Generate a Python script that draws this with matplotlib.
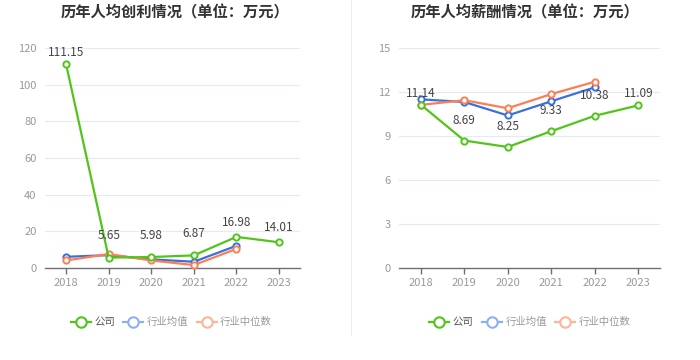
import matplotlib
matplotlib.use("Agg")
import matplotlib.pyplot as plt
from matplotlib.lines import Line2D

plt.rcParams['font.family'] = ['Noto Sans CJK SC', 'DejaVu Sans']

years = ['2018', '2019', '2020', '2021', '2022', '2023']

profit_company = [111.15, 5.65, 5.98, 6.87, 16.98, 14.01]
profit_ind_mean = [6.1, 7.0, 4.7, 3.4, 12.1]
profit_ind_median = [4.1, 7.6, 4.1, 1.6, 10.4]

salary_company = [11.14, 8.69, 8.25, 9.33, 10.38, 11.09]
salary_ind_mean = [11.50, 11.32, 10.40, 11.37, 12.32]
salary_ind_median = [11.12, 11.44, 10.89, 11.86, 12.70]

series_names = ['公司', '行业均值', '行业中位数']
GREEN = '#52c41a'
BLUE = '#3b6fe0'
ORANGE = '#fb7f55'
LEG_BLUE = '#8fb0f0'
LEG_ORANGE = '#fdb49a'

fig = plt.figure(figsize=(7, 3.6), dpi=100)
fig.patch.set_facecolor('white')

def draw(ax, comp, mean, med, ylim, yticks, label_offsets):
    x = list(range(len(years)))
    ax.set_xlim(-0.5, len(years) - 0.5)
    ax.set_ylim(*ylim)
    ax.set_yticks(yticks)
    ax.set_yticklabels([str(t) for t in yticks])
    ax.set_xticks(x)
    ax.set_xticklabels(years)
    for t in yticks[1:]:
        ax.axhline(t, color='#e6eaf2', lw=0.8, zorder=0)
    for s in ['top', 'right', 'left']:
        ax.spines[s].set_visible(False)
    ax.spines['bottom'].set_color('#6e7079')
    ax.spines['bottom'].set_linewidth(1)
    ax.tick_params(axis='x', colors='#6e7079', length=4, width=1, labelsize=8, labelcolor='#999999', pad=3)
    ax.tick_params(axis='y', length=0, labelsize=8, labelcolor='#999999', pad=6)
    mk = dict(marker='o', markersize=4.5, markerfacecolor='white', markeredgewidth=1.4)
    ax.plot(x[:len(mean)], mean, color=BLUE, lw=1.6, markeredgecolor=BLUE, zorder=3, clip_on=False, **mk)
    ax.plot(x[:len(med)], med, color=ORANGE, lw=1.6, markeredgecolor=ORANGE, zorder=3, clip_on=False, **mk)
    ax.plot(x, comp, color=GREEN, lw=1.6, markeredgecolor=GREEN, zorder=4, clip_on=False, **mk)
    for i, v in enumerate(comp):
        dx, dy = label_offsets[i]
        ax.annotate(f'{v:.2f}', (i, v), xytext=(dx, dy), textcoords='offset points',
                    ha='center', va='bottom', fontsize=8.5, color='#444444', zorder=5)

ax1 = fig.add_axes([0.064, 0.2556, 0.365, 0.611])
draw(ax1, profit_company, profit_ind_mean, profit_ind_median, (0, 120), [0, 20, 40, 60, 80, 100, 120],
     [(0, 4), (0, 11), (0, 11), (0, 11), (0, 6), (0, 6)])
ax2 = fig.add_axes([0.570, 0.2556, 0.373, 0.611])
draw(ax2, salary_company, salary_ind_mean, salary_ind_median, (0, 15), [0, 3, 6, 9, 12, 15],
     [(0, 3), (0, 10), (0, 10), (0, 10), (0, 10), (0, 4)])

fig.text(0.25, 0.966, '历年人均创利情况（单位：万元）', ha='center', va='center',
         fontsize=11, fontweight='bold', color='#333333')
fig.text(0.75, 0.966, '历年人均薪酬情况（单位：万元）', ha='center', va='center',
         fontsize=11, fontweight='bold', color='#333333')

fig.add_artist(Line2D([0.502, 0.502], [0.07, 1.0], color='#eeeeee', lw=0.8, transform=fig.transFigure))

def legend(cx):
    kw = dict(lw=1.6, marker='o', markersize=7.5, markerfacecolor='white', markeredgewidth=1.5)
    handles = [
        Line2D([], [], color=GREEN, markeredgecolor=GREEN, **kw),
        Line2D([], [], color=LEG_BLUE, markeredgecolor=LEG_BLUE, **kw),
        Line2D([], [], color=LEG_ORANGE, markeredgecolor=LEG_ORANGE, **kw),
    ]
    leg = fig.legend(handles, series_names, loc='center', bbox_to_anchor=(cx, 0.105), ncol=3,
                     frameon=False, fontsize=7.5, handlelength=1.9, handletextpad=0.35, columnspacing=0.8)
    cols = ['#555555', '#999999', '#999999']
    for t, c in zip(leg.get_texts(), cols):
        t.set_color(c)

legend(0.245)
legend(0.757)

fig.savefig('out.png', dpi=100, facecolor='white')
